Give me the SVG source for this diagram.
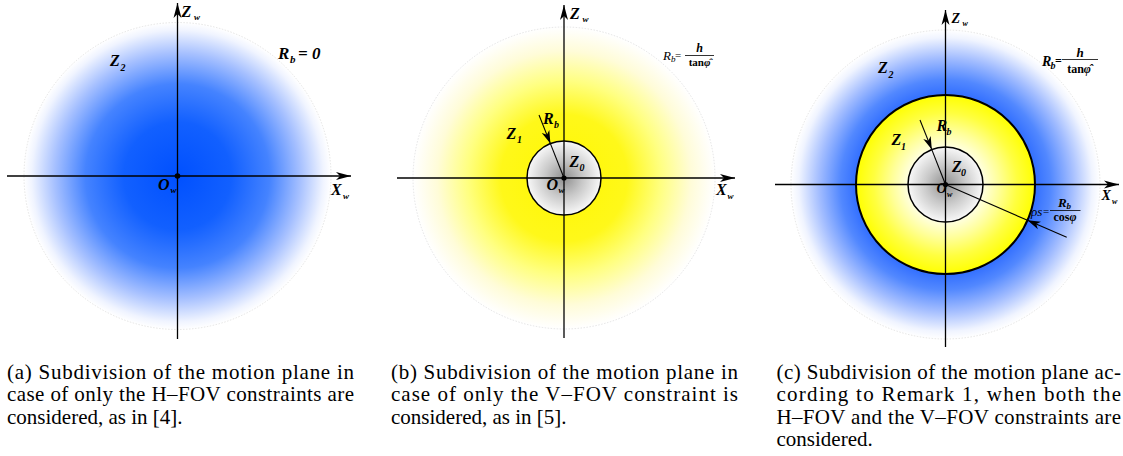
<svg xmlns="http://www.w3.org/2000/svg" width="1123" height="456" viewBox="0 0 1123 456">
<style>
.lb{font-family:'Liberation Serif','Times New Roman',Tinos,Times,serif;font-weight:bold;font-style:italic;font-size:16px;fill:#000}
.sb{font-size:10px}
.sw{font-size:9px}
.cap{font-family:'Liberation Serif','Times New Roman',Tinos,Times,serif;font-size:21px;fill:#000}
.ax{stroke:#000;stroke-width:1.3;fill:none}
.ln{stroke:#000;stroke-width:1.1;fill:none}
.edge{fill:none;stroke:#d4d4d4;stroke-width:0.6;stroke-dasharray:1.5 1.5}
.ring{stroke:#000;stroke-width:1.5}
.bar{stroke:#000;stroke-width:0.8}
</style>
<defs>
<marker id="ax" viewBox="0 0 16 10" markerWidth="16" markerHeight="10" refX="15" refY="5" orient="auto" markerUnits="userSpaceOnUse"><path d="M15,5 L0,1 L4,5 L0,9 Z" fill="#000"/></marker>
<marker id="ar" viewBox="0 0 13 9" markerWidth="13" markerHeight="9" refX="13" refY="4.5" orient="auto" markerUnits="userSpaceOnUse"><path d="M13,4.5 L0,0.5 L3.5,4.5 L0,8.5 Z" fill="#000"/></marker>
<radialGradient id="gA" cx="177.5" cy="176" r="153.5" gradientUnits="userSpaceOnUse">
<stop offset="0" stop-color="#0050ff"/><stop offset="0.35" stop-color="#1260ff"/><stop offset="0.6" stop-color="#4583ff"/><stop offset="0.8" stop-color="#a6c0ff"/><stop offset="0.95" stop-color="#f0f4ff"/><stop offset="1" stop-color="#ffffff"/>
</radialGradient>
<radialGradient id="gB" cx="564" cy="178" r="151" gradientUnits="userSpaceOnUse">
<stop offset="0" stop-color="#fff700"/><stop offset="0.42" stop-color="#fff81a"/><stop offset="0.64" stop-color="#ffff80"/><stop offset="0.84" stop-color="#fffcd8"/><stop offset="0.96" stop-color="#fffef6"/><stop offset="1" stop-color="#ffffff"/>
</radialGradient>
<radialGradient id="gG">
<stop offset="0" stop-color="#8f8f8f"/><stop offset="0.5" stop-color="#c8c8c8"/><stop offset="1" stop-color="#f8f8f8"/>
</radialGradient>
<radialGradient id="gC" cx="945.5" cy="184.5" r="154.5" gradientUnits="userSpaceOnUse">
<stop offset="0" stop-color="#2060ff"/><stop offset="0.56" stop-color="#2c6aff"/><stop offset="0.68" stop-color="#5288ff"/><stop offset="0.82" stop-color="#a3bdff"/><stop offset="0.95" stop-color="#f0f4ff"/><stop offset="1" stop-color="#ffffff"/>
</radialGradient>
<radialGradient id="gY">
<stop offset="0" stop-color="#ffffff"/><stop offset="0.4" stop-color="#ffffe8"/><stop offset="0.6" stop-color="#ffff98"/><stop offset="0.8" stop-color="#ffff40"/><stop offset="1" stop-color="#ffff00"/>
</radialGradient>
</defs>

<g id="panel-a">
<circle cx="177.5" cy="176" r="153.5" fill="url(#gA)"/>
<circle class="edge" cx="177.5" cy="176" r="153.5"/>
</g>

<g id="panel-b">
<circle cx="564" cy="178" r="151" fill="url(#gB)"/>
<circle class="edge" cx="564" cy="178" r="151"/>
<circle class="ring" cx="564" cy="178" r="37" fill="url(#gG)"/>
</g>

<g id="panel-c">
<circle cx="945.5" cy="184.5" r="154.5" fill="url(#gC)"/>
<circle class="edge" cx="945.5" cy="184.5" r="154.5"/>
<circle cx="945.5" cy="184.5" r="89.5" fill="url(#gY)" stroke="#000" stroke-width="2"/>
<circle class="ring" cx="945.5" cy="184.5" r="37.5" fill="url(#gG)"/>
</g>

<g id="connectors">
<line class="ax" x1="7" y1="176" x2="351" y2="176" marker-end="url(#ax)"/>
<line class="ax" x1="177.5" y1="339" x2="177.5" y2="3" marker-end="url(#ax)"/>
<line class="ax" x1="397" y1="178" x2="735" y2="178" marker-end="url(#ax)"/>
<line class="ax" x1="564" y1="338" x2="564" y2="5" marker-end="url(#ax)"/>
<line class="ax" x1="775" y1="184.5" x2="1119" y2="184.5" marker-end="url(#ax)"/>
<line class="ax" x1="945.5" y1="347" x2="945.5" y2="10" marker-end="url(#ax)"/>
<line class="ln" x1="539" y1="115" x2="550.4" y2="143.6" marker-end="url(#ar)"/>
<line class="ln" x1="550.4" y1="143.6" x2="564" y2="178"/>
<line class="ln" x1="920" y1="120" x2="931.8" y2="149.6" marker-end="url(#ar)"/>
<line class="ln" x1="931.8" y1="149.6" x2="945.5" y2="184.5"/>
<line class="ln" x1="1066.7" y1="237.3" x2="1027.5" y2="220.3" marker-end="url(#ar)"/>
<line class="ln" x1="1027.5" y1="220.3" x2="945.5" y2="184.5"/>
</g>

<g id="origins">
<circle cx="177.5" cy="176" r="2.8" fill="#000"/>
<circle cx="564" cy="178" r="2.6" fill="#000"/>
<circle cx="945.5" cy="184.5" r="2.6" fill="#000"/>
</g>

<g id="labels-a">
<text class="lb"><tspan x="181.5" y="16.5">Z</tspan><tspan class="sw" x="194" y="19.5">w</tspan></text>
<text class="lb" style="font-size:17px"><tspan x="278" y="58.5">R</tspan><tspan x="290" y="62.5" style="font-size:11px">b</tspan><tspan x="298" y="58.5">= 0</tspan></text>
<text class="lb"><tspan x="110" y="66">Z</tspan><tspan class="sb" x="120.5" y="70.5">2</tspan></text>
<text class="lb"><tspan x="158" y="189.5">O</tspan><tspan class="sw" x="170.5" y="193">w</tspan></text>
<text class="lb"><tspan x="331" y="194.5">X</tspan><tspan class="sw" x="343" y="198.5">w</tspan></text>
</g>

<g id="labels-b">
<text class="lb"><tspan x="570" y="18.5">Z</tspan><tspan class="sw" x="582.5" y="22">w</tspan></text>
<text class="lb" style="font-weight:normal;font-size:13px"><tspan x="663" y="59.5">R</tspan><tspan x="671" y="62" style="font-size:9px">b</tspan><tspan x="675" y="59" style="font-style:normal;font-size:11px">=</tspan></text>
<line class="bar" x1="685" y1="55.5" x2="714" y2="55.5"/>
<text class="lb" style="font-size:12px" x="699.5" y="52" text-anchor="middle">h</text>
<text class="lb" style="font-size:11px;font-style:normal" x="699.5" y="66" text-anchor="middle">tan<tspan style="font-style:italic">φ̂</tspan></text>
<text class="lb"><tspan x="543" y="123.5">R</tspan><tspan class="sb" x="554" y="127.5">b</tspan></text>
<text class="lb"><tspan x="506.5" y="138.5">Z</tspan><tspan class="sb" x="517" y="143">1</tspan></text>
<text class="lb"><tspan x="569.5" y="167">Z</tspan><tspan class="sb" x="579.5" y="171">0</tspan></text>
<text class="lb"><tspan x="546.5" y="189.5">O</tspan><tspan class="sw" x="558.5" y="193">w</tspan></text>
<text class="lb"><tspan x="716" y="194.5">X</tspan><tspan class="sw" x="727.5" y="199">w</tspan></text>
</g>

<g id="labels-c">
<text class="lb" style="font-size:14px"><tspan x="951.5" y="22.5">Z</tspan><tspan x="962.5" y="25.5" style="font-size:8px">w</tspan></text>
<text class="lb" style="font-size:14px"><tspan x="1042" y="66">R</tspan><tspan x="1050.5" y="68.5" style="font-size:10px">b</tspan><tspan x="1055" y="65" style="font-style:normal;font-size:12px">=</tspan></text>
<line class="bar" x1="1062" y1="59.5" x2="1098" y2="59.5"/>
<text class="lb" style="font-size:13px" x="1080" y="57" text-anchor="middle">h</text>
<text class="lb" style="font-size:12px;font-style:normal" x="1079" y="73" text-anchor="middle">tan<tspan style="font-style:italic">φ̂</tspan></text>
<text class="lb"><tspan x="878" y="73">Z</tspan><tspan class="sb" x="888.5" y="77.5">2</tspan></text>
<text class="lb"><tspan x="891.5" y="145">Z</tspan><tspan class="sb" x="901" y="150">1</tspan></text>
<text class="lb"><tspan x="936.5" y="131">R</tspan><tspan class="sb" x="946.5" y="135">b</tspan></text>
<text class="lb"><tspan x="952" y="172">Z</tspan><tspan class="sb" x="961" y="175.5">0</tspan></text>
<text class="lb" style="font-size:14px"><tspan x="936.5" y="193">O</tspan><tspan x="947" y="197" style="font-size:8px">w</tspan></text>
<text class="lb" style="font-size:14px"><tspan x="1101.5" y="199.5">X</tspan><tspan x="1112" y="203.5" style="font-size:8px">w</tspan></text>
<text class="lb" style="font-size:13px;font-weight:normal"><tspan x="1031" y="216">ρs</tspan><tspan x="1043" y="215" style="font-style:normal;font-size:11px">=</tspan></text>
<line class="bar" x1="1050" y1="210.5" x2="1080.5" y2="210.5"/>
<text class="lb" style="font-size:13px"><tspan x="1058" y="207">R</tspan><tspan x="1066.5" y="209" style="font-size:9px">b</tspan></text>
<text class="lb" style="font-size:12px;font-style:normal" x="1065" y="221" text-anchor="middle">cos<tspan style="font-style:italic">φ</tspan></text>
</g>

<g id="captions">
<text class="cap" x="7" y="378.5" textLength="347" lengthAdjust="spacing">(a) Subdivision of the motion plane in</text>
<text class="cap" x="7" y="401" textLength="347" lengthAdjust="spacing">case of only the H–FOV constraints are</text>
<text class="cap" x="7" y="423.5">considered, as in [4].</text>
<text class="cap" x="391" y="378.5" textLength="347" lengthAdjust="spacing">(b) Subdivision of the motion plane in</text>
<text class="cap" x="391" y="401" textLength="347" lengthAdjust="spacing">case of only the V–FOV constraint is</text>
<text class="cap" x="391" y="423.5">considered, as in [5].</text>
<text class="cap" x="776.5" y="378.5" textLength="344.5" lengthAdjust="spacing">(c) Subdivision of the motion plane ac-</text>
<text class="cap" x="776.5" y="401" textLength="344.5" lengthAdjust="spacing">cording to Remark 1, when both the</text>
<text class="cap" x="776.5" y="423.5" textLength="344.5" lengthAdjust="spacing">H–FOV and the V–FOV constraints are</text>
<text class="cap" x="776.5" y="446">considered.</text>
</g>
</svg>
